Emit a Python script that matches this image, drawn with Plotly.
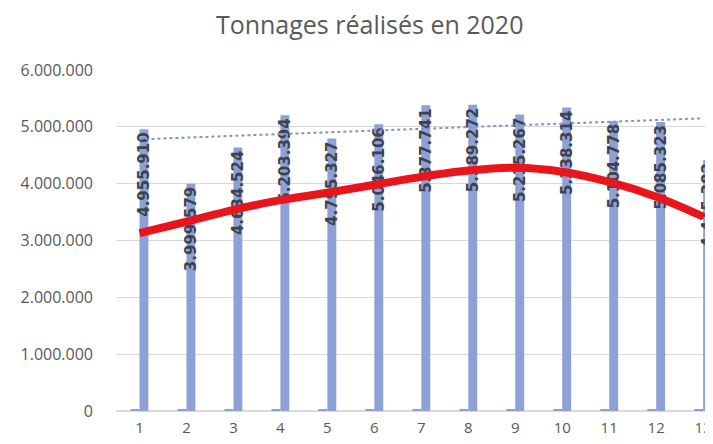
import plotly.graph_objects as go

periodes = list(range(1, 14))
tonnages = [4955910, 3999579, 4634524, 5203394, 4795327, 5046106, 5377741,
            5389272, 5215267, 5338314, 5104778, 5085323, 4415382]
petite_serie = [25000] * 13
tendance_poly = [3130000, 3330000, 3540000, 3710000, 3840000, 3980000, 4120000,
                 4230000, 4280000, 4210000, 4030000, 3770000, 3420000]
tendance_lin_x = [1, 13]
tendance_lin_y = [4780000, 5150000]
y_ticks = [0, 1000000, 2000000, 3000000, 4000000, 5000000, 6000000]

labels = [f"{v:,}".replace(",", ".") for v in tonnages]

fig = go.Figure()
fig.add_trace(go.Bar(x=periodes, y=petite_serie, marker_color="#8EA1D6",
                     marker_line_width=0, showlegend=False, hoverinfo="skip"))
fig.add_trace(go.Bar(x=periodes, y=tonnages, marker_color="#8EA1D6",
                     marker_line_width=0, text=labels, textposition="inside",
                     insidetextanchor="end", textangle=-90, constraintext="none",
                     cliponaxis=False,
                     textfont=dict(family="DejaVu Sans", size=15, color="#3D4250",
                                   weight="bold"),
                     showlegend=False))
fig.add_trace(go.Scatter(x=tendance_lin_x, y=tendance_lin_y, mode="lines",
                         line=dict(color="#7F93CC", width=2, dash="dot"),
                         showlegend=False))
fig.add_trace(go.Scatter(x=periodes, y=tendance_poly, mode="lines",
                         line=dict(color="#E8161C", width=8, shape="spline"),
                         showlegend=False))

fig.update_layout(
    width=705, height=436,
    margin=dict(l=108, r=0, t=62, b=33, autoexpand=False),
    paper_bgcolor="white", plot_bgcolor="white",
    barmode="group", bargap=0.62, bargroupgap=0,
    separators=",.",
    title=dict(text="Tonnages réalisés en 2020", x=0.513, xanchor="center",
               y=0.961, yanchor="middle",
               font=dict(family="Open Sans", size=25, color="#595959")),
    font=dict(family="Open Sans", color="#595959"),
)
fig.update_xaxes(range=[0.5, 13.21], tickvals=periodes, showgrid=False,
                 showline=False, zeroline=False, ticks="", automargin=False,
                 ticklabelstandoff=6,
                 tickfont=dict(size=15, color="#595959"))
fig.update_yaxes(range=[0, 6000000], tickvals=y_ticks, tickformat=",d",
                 showgrid=True, gridcolor="#D9D9D9", gridwidth=1,
                 zeroline=True, zerolinecolor="#D9D9D9", showline=False,
                 ticks="", ticklabelstandoff=22, automargin=False,
                 tickfont=dict(size=16, color="#595959"))

fig.write_html("out.html")
